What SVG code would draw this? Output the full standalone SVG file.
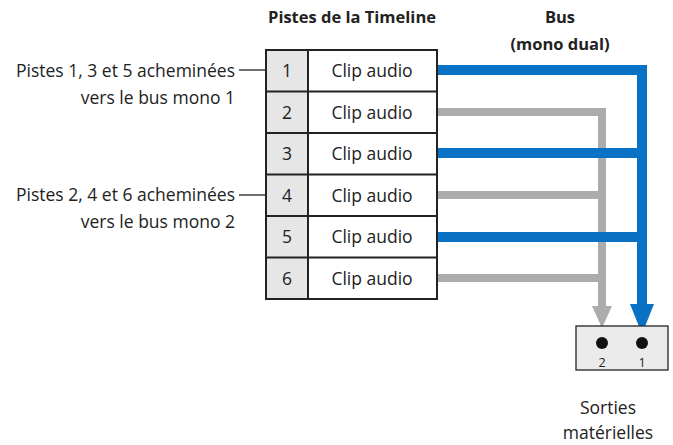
<svg xmlns="http://www.w3.org/2000/svg" width="673" height="445" viewBox="0 0 673 445">
<style>
text{font-family:"Open Sans","Liberation Sans",sans-serif;font-size:17.5px;fill:#222}
.b{font-weight:bold;font-size:16.5px}
.c{text-anchor:middle}
.e{text-anchor:end}
.num{fill:#e6e6e6;stroke:#222;stroke-width:2}
.cell{fill:#fff;stroke:#222;stroke-width:2}
.blue{stroke:#0a72c4;stroke-width:10;fill:none}
.gray{stroke:#acacac;stroke-width:8;fill:none}
</style>
<g id="headers">
<text class="b c" x="352" y="23">Pistes de la Timeline</text>
<text class="b c" x="560" y="23">Bus</text>
<text class="b c" x="560" y="50">(mono dual)</text>
</g>
<g id="labels">
<text class="e" x="235" y="77">Pistes 1, 3 et 5 acheminées</text>
<text class="e" x="235" y="104">vers le bus mono 1</text>
<text class="e" x="235" y="201">Pistes 2, 4 et 6 acheminées</text>
<text class="e" x="235" y="228">vers le bus mono 2</text>
<line x1="239" y1="70" x2="266" y2="70" stroke="#222" stroke-width="1.3"/>
<line x1="239" y1="195" x2="266" y2="195" stroke="#222" stroke-width="1.3"/>
</g>
<g id="connectors">
<path class="gray" d="M437 112H602V312"/>
<path class="gray" d="M437 195H602M437 278H602"/>
<polygon points="592,306 612,306 602,328" fill="#acacac"/>
<path class="blue" d="M437 70H642V312"/>
<path class="blue" d="M437 153H642M437 237H642"/>
<polygon points="630,304 654,304 642,334" fill="#0a72c4"/>
</g>
<g id="tracks">
<rect class="num" x="266" y="50" width="42" height="249"/>
<rect class="cell" x="308" y="50" width="129" height="249"/>
<path d="M266 91.5H437M266 133H437M266 174.5H437M266 216H437M266 257.5H437" stroke="#222" stroke-width="2"/>
<g class="c">
<text x="287" y="77">1</text><text x="372" y="77">Clip audio</text>
<text x="287" y="119">2</text><text x="372" y="119">Clip audio</text>
<text x="287" y="160">3</text><text x="372" y="160">Clip audio</text>
<text x="287" y="202">4</text><text x="372" y="202">Clip audio</text>
<text x="287" y="243">5</text><text x="372" y="243">Clip audio</text>
<text x="287" y="285">6</text><text x="372" y="285">Clip audio</text>
</g>
</g>
<g id="outputs">
<rect x="576" y="326" width="92" height="44" fill="#ebebeb" stroke="#222" stroke-width="1.3"/>
<circle cx="602" cy="343" r="6" fill="#111"/>
<circle cx="642" cy="343" r="6" fill="#111"/>
<text class="c" x="602" y="367" style="font-size:12.5px">2</text>
<text class="c" x="642" y="367" style="font-size:12.5px">1</text>
<text class="c" x="608" y="414">Sorties</text>
<text class="c" x="608" y="439">matérielles</text>
</g>
</svg>
